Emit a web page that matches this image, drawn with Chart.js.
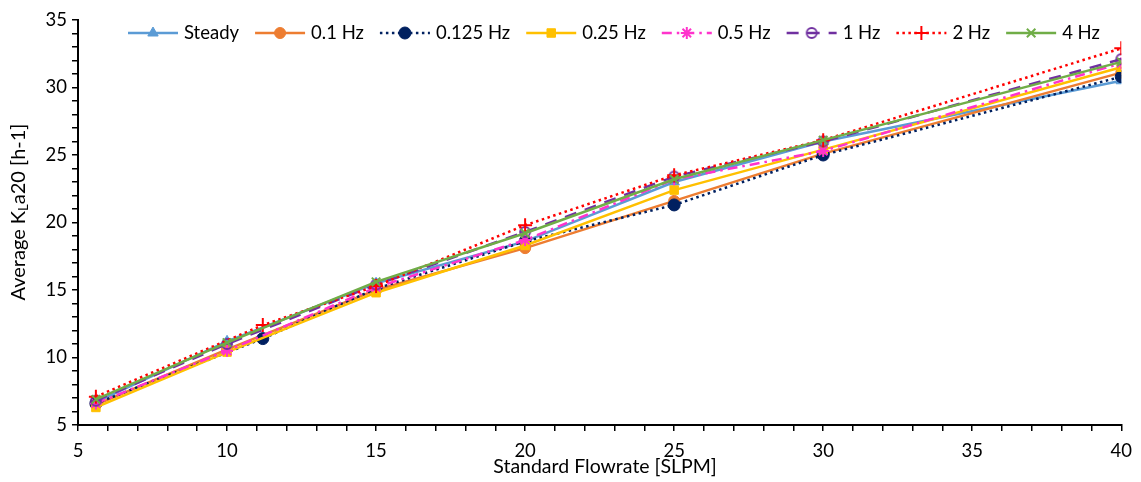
<!DOCTYPE html>
<html>
<head>
<meta charset="utf-8">
<script src="https://cdn.jsdelivr.net/npm/chart.js@4.4.1/dist/chart.umd.min.js"></script>
<style>
  html, body { margin: 0; padding: 0; background: #fff; }
</style>
</head>
<body>
<canvas id="klaChart" width="1141" height="482"></canvas>
<script>
// flowrates (SLPM); 0.125 Hz and 2 Hz were run at 11.2 instead of 10
const flowMain = [5.6, 10, 15, 20, 25, 30, 40];
const flowAlt = [5.6, 11.2, 15, 20, 25, 30, 40];

const seriesLabels = ['Steady', '0.1 Hz', '0.125 Hz', '0.25 Hz', '0.5 Hz', '1 Hz', '2 Hz', '4 Hz'];

const steady = [6.7, 11.2, 15.5, 18.6, 23.0, 26.0, 30.5];
const hz01 = [6.5, 10.6, 15.0, 18.1, 21.6, 25.1, 31.1];
const hz0125 = [6.6, 11.4, 15.1, 18.6, 21.3, 25.0, 30.8];
const hz025 = [6.3, 10.4, 14.8, 18.3, 22.4, 25.4, 31.5];
const hz05 = [6.6, 10.5, 15.2, 18.7, 23.2, 25.3, 31.8];
const hz1 = [6.8, 11.0, 15.4, 19.3, 23.4, 26.0, 32.1];
const hz2 = [7.1, 12.4, 15.3, 19.8, 23.5, 26.1, 32.9];
const hz4 = [6.9, 11.1, 15.6, 19.2, 23.2, 26.1, 31.9];

const xTicks = [5, 10, 15, 20, 25, 30, 35, 40];
const yTicks = [5, 10, 15, 20, 25, 30, 35];

const FONT = 'Lato, "Open Sans", sans-serif';

// open circle with a bar through it, like the 1 Hz marker
const thetaMarker = (() => {
  const c = document.createElement('canvas');
  c.width = 14; c.height = 14;
  const g = c.getContext('2d');
  g.strokeStyle = '#7030A0';
  g.lineWidth = 1.8;
  g.beginPath(); g.arc(7, 7, 5, 0, Math.PI * 2); g.stroke();
  g.beginPath(); g.moveTo(2, 7); g.lineTo(12, 7); g.stroke();
  return c;
})();

const toPoints = (xs, ys) => xs.map((x, i) => ({ x: x, y: ys[i] }));

const makeSeries = (i, xs, ys, color, dash, pointStyle, radius) => ({
  label: seriesLabels[i],
  data: toPoints(xs, ys),
  borderColor: color,
  backgroundColor: color,
  borderWidth: 2.5,
  borderDash: dash,
  pointStyle: pointStyle,
  pointRadius: radius,
  pointBorderWidth: pointStyle === 'cross' || pointStyle === 'crossRot' || pointStyle === 'star' ? 2 : 1,
  tension: 0,
  order: 7 - i
});

const datasets = [
  makeSeries(0, flowMain, steady, '#5B9BD5', [], 'triangle', 6),
  makeSeries(1, flowMain, hz01, '#ED7D31', [], 'circle', 5.5),
  makeSeries(2, flowAlt, hz0125, '#002060', [2.5, 3.5], 'circle', 6),
  makeSeries(3, flowMain, hz025, '#FFC000', [], 'rect', 6),
  makeSeries(4, flowMain, hz05, '#FF33CC', [10, 5, 2.5, 5], 'star', 6),
  makeSeries(5, flowMain, hz1, '#7030A0', [12, 9], thetaMarker, 6),
  makeSeries(6, flowAlt, hz2, '#FF0000', [2.5, 3.5], 'cross', 7),
  makeSeries(7, flowMain, hz4, '#70AD47', [], 'crossRot', 6)
];

// legend drawn across the top of the plot: short line with the marker in the middle
const topLegend = {
  id: 'topLegend',
  afterDraw(chart) {
    const ctx = chart.ctx;
    const sample = 50, gapText = 6, gapItem = 16;
    const y = 33;
    ctx.save();
    ctx.font = '18.5px ' + FONT;
    const widths = chart.data.datasets.map(ds => ctx.measureText(ds.label).width);
    let x = 128;
    chart.data.datasets.forEach((ds, i) => {
      ctx.strokeStyle = ds.borderColor;
      ctx.fillStyle = ds.borderColor;
      ctx.lineWidth = 2.5;
      ctx.setLineDash(ds.borderDash);
      ctx.beginPath(); ctx.moveTo(x, y); ctx.lineTo(x + sample, y); ctx.stroke();
      ctx.setLineDash([]);
      ctx.lineWidth = ds.pointBorderWidth;
      Chart.helpers.drawPoint(ctx, { pointStyle: ds.pointStyle, radius: ds.pointRadius, rotation: 0, borderWidth: ds.pointBorderWidth }, x + sample / 2, y);
      x += sample + gapText;
      ctx.fillStyle = '#000';
      ctx.textAlign = 'left';
      ctx.textBaseline = 'middle';
      ctx.fillText(ds.label, x, y);
      x += widths[i] + gapItem;
    });
    ctx.restore();
  }
};

const axisTitles = {
  id: 'axisTitles',
  afterDraw(chart) {
    const ctx = chart.ctx;
    const area = chart.chartArea;
    ctx.save();
    ctx.fillStyle = '#000';
    ctx.textBaseline = 'middle';

    ctx.font = '19.5px ' + FONT;
    ctx.textAlign = 'center';
    ctx.fillText('Standard Flowrate [SLPM]', 605, 467);

    // y title with subscript L
    const partA = 'Average K', partB = 'L', partC = 'a20 [h-1]';
    ctx.translate(19, 212);
    ctx.rotate(-Math.PI / 2);
    ctx.textAlign = 'left';
    ctx.font = '20px ' + FONT;
    const wA = ctx.measureText(partA).width;
    const wC = ctx.measureText(partC).width;
    ctx.font = '13px ' + FONT;
    const wB = ctx.measureText(partB).width;
    let x = -(wA + wB + wC) / 2;
    ctx.font = '20px ' + FONT;
    ctx.fillText(partA, x, 0);
    x += wA;
    ctx.font = '13px ' + FONT;
    ctx.fillText(partB, x, 5);
    x += wB;
    ctx.font = '20px ' + FONT;
    ctx.fillText(partC, x, 0);
    ctx.restore();
  }
};

const majorOnly = (list) => (value) => list.includes(value) ? value : '';

new Chart(document.getElementById('klaChart'), {
  type: 'line',
  data: { datasets: datasets },
  plugins: [axisTitles, topLegend],
  options: {
    responsive: false,
    animation: false,
    layout: { padding: { top: 20, right: 17, left: 0, bottom: 0 } },
    plugins: {
      tooltip: { enabled: false },
      legend: { display: false }
    },
    scales: {
      x: {
        type: 'linear',
        min: 5,
        max: 40,
        afterFit: (scale) => { scale.height = 57; },
        border: { color: '#000', width: 2 },
        grid: { drawOnChartArea: false, drawTicks: true, tickLength: 6, color: '#000', lineWidth: 1.5 },
        ticks: {
          stepSize: 1,
          autoSkip: false,
          maxRotation: 0,
          padding: 9,
          color: '#000',
          font: { family: FONT, size: 18.5 },
          callback: majorOnly(xTicks)
        }
      },
      y: {
        min: 5,
        max: 35,
        afterFit: (scale) => { scale.width = 78; },
        border: { color: '#000', width: 2 },
        grid: { drawOnChartArea: false, drawTicks: true, tickLength: 6, color: '#000', lineWidth: 1.5 },
        ticks: {
          stepSize: 1,
          autoSkip: false,
          padding: 5,
          color: '#000',
          font: { family: FONT, size: 18.5 },
          callback: majorOnly(yTicks)
        }
      }
    }
  }
});
</script>
</body>
</html>
